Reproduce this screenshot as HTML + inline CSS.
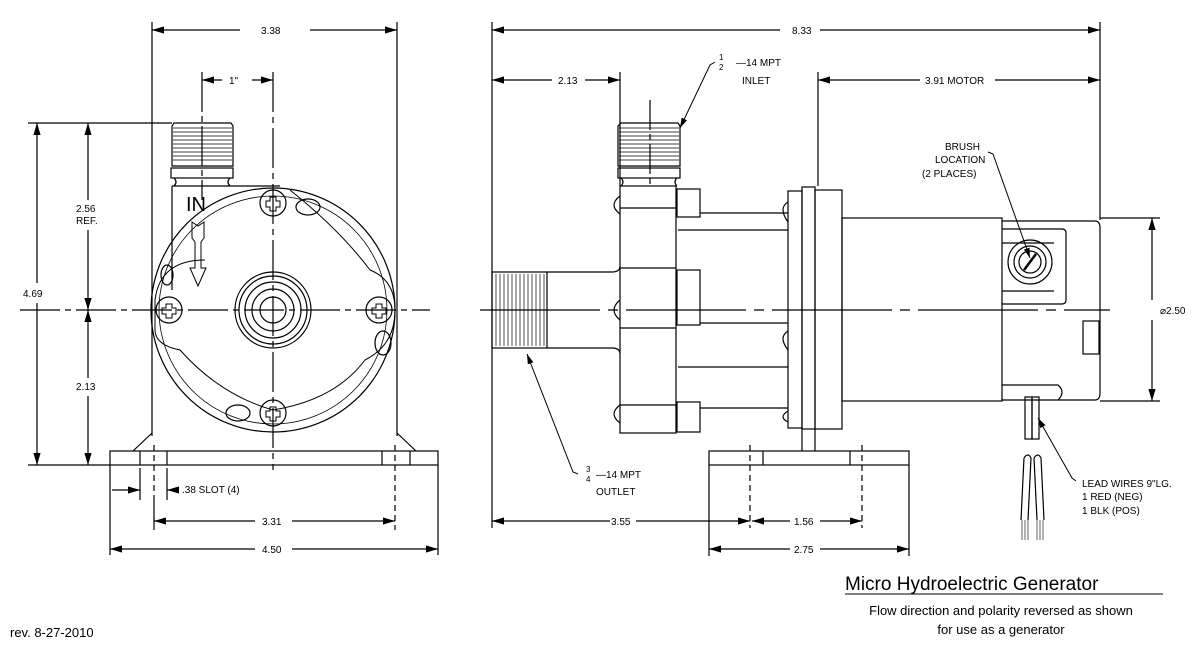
<!DOCTYPE html>
<html><head><meta charset="utf-8"><style>
html,body{margin:0;padding:0;background:#fff;width:1198px;height:645px;overflow:hidden}
svg{display:block}
text{font-family:"Liberation Sans",sans-serif;fill:#000}
.t{font-size:10px}
</style></head><body>
<svg width="1198" height="645" viewBox="0 0 1198 645" xmlns="http://www.w3.org/2000/svg">
<defs>
<marker id="a" viewBox="0 0 10 6" refX="10" refY="3" markerWidth="10" markerHeight="6" orient="auto-start-reverse"><path d="M0,0 L10,3 L0,6 z" fill="#000"/></marker>
</defs>
<g fill="none" stroke="#000" stroke-width="1.2">
<line x1="152" y1="22" x2="152" y2="436"/>
<line x1="397" y1="22" x2="397" y2="436"/>
<line x1="202" y1="72" x2="202" y2="200" stroke-dasharray="40,4,6,4"/>
<line x1="273" y1="72" x2="273" y2="470" stroke-dasharray="40,5,6,5"/>
<line x1="20" y1="310" x2="430" y2="310" stroke-dasharray="40,5,6,5"/>
<line x1="28" y1="123" x2="172" y2="123"/>
<line x1="28" y1="465" x2="110" y2="465"/>
<line x1="152" y1="433" x2="133" y2="451"/>
<line x1="397" y1="433" x2="416" y2="451"/>
<rect x="110" y="451" width="328" height="14"/>
<line x1="140" y1="451" x2="140" y2="465"/><line x1="167" y1="451" x2="167" y2="465"/>
<line x1="382" y1="451" x2="382" y2="465"/><line x1="410" y1="451" x2="410" y2="465"/>
<line x1="154" y1="445" x2="154" y2="500" stroke-dasharray="6,4"/>
<line x1="395" y1="445" x2="395" y2="530" stroke-dasharray="6,4"/>
<line x1="110" y1="465" x2="110" y2="555"/><line x1="438" y1="465" x2="438" y2="555"/>
<line x1="140" y1="468" x2="140" y2="500"/><line x1="167" y1="468" x2="167" y2="500"/>
<line x1="154" y1="500" x2="154" y2="530"/>
<path d="M174,123 H231 L233,126 V166 H172 V126 Z"/>
<g stroke-width="0.8"><line x1="173" y1="128" x2="232" y2="128"/><line x1="173" y1="132" x2="232" y2="132"/><line x1="173" y1="136" x2="232" y2="136"/><line x1="173" y1="140" x2="232" y2="140"/><line x1="173" y1="144" x2="232" y2="144"/><line x1="173" y1="148" x2="232" y2="148"/><line x1="173" y1="152" x2="232" y2="152"/><line x1="173" y1="156" x2="232" y2="156"/><line x1="173" y1="160" x2="232" y2="160"/></g>
<rect x="171" y="168" width="62" height="10"/>
<path d="M174,178 Q178,182 174,186 M230,178 Q226,182 230,186"/>
<path d="M172,186 H280 M172,186 V290"/>
<circle cx="273" cy="310" r="122"/>
<circle cx="273" cy="310" r="114" stroke-width="0.8"/>
<path d="M205,260 Q160,260 155,300 V330 Q155,345 180,350 Q220,395 273,410 Q335,400 365,360 Q395,345 395,310 Q395,280 370,270 Q340,230 290,190" stroke-width="1"/>
<circle cx="273" cy="203" r="13"/><circle cx="169" cy="310" r="13"/><circle cx="379" cy="310" r="13"/><circle cx="273" cy="413" r="13"/>
<g stroke-width="1">
<path d="M270,197 h6 v4 h4 v6 h-4 v4 h-6 v-4 h-4 v-6 h4z"/>
<path d="M166,304 h6 v4 h4 v6 h-4 v4 h-6 v-4 h-4 v-6 h4z"/>
<path d="M376,304 h6 v4 h4 v6 h-4 v4 h-6 v-4 h-4 v-6 h4z"/>
<path d="M270,407 h6 v4 h4 v6 h-4 v4 h-6 v-4 h-4 v-6 h4z"/>
</g>
<ellipse cx="308" cy="207" rx="12" ry="8"/><ellipse cx="383" cy="343" rx="8" ry="12"/><ellipse cx="238" cy="413" rx="12" ry="8"/><ellipse cx="167" cy="275" rx="6" ry="10"/>
<circle cx="273" cy="310" r="38"/><circle cx="273" cy="310" r="34"/><circle cx="273" cy="310" r="28"/><circle cx="273" cy="310" r="21"/><circle cx="273" cy="310" r="13"/>
<path d="M192,222 L198,226 L204,222 V238 L201,242 V268 L206,268 L198,286 L190,268 L195,268 V242 L192,238 Z" stroke-width="1"/>
<line x1="152" y1="30" x2="240" y2="30" marker-start="url(#a)"/><line x1="310" y1="30" x2="397" y2="30" marker-end="url(#a)"/>
<line x1="202" y1="80" x2="222" y2="80" marker-start="url(#a)"/><line x1="252" y1="80" x2="273" y2="80" marker-end="url(#a)"/>
<line x1="37" y1="123" x2="37" y2="283" marker-start="url(#a)"/><line x1="37" y1="303" x2="37" y2="465" marker-end="url(#a)"/>
<line x1="88" y1="123" x2="88" y2="200" marker-start="url(#a)"/><line x1="88" y1="230" x2="88" y2="310" marker-end="url(#a)"/>
<line x1="88" y1="310" x2="88" y2="378" marker-start="url(#a)"/><line x1="88" y1="396" x2="88" y2="465" marker-end="url(#a)"/>
<line x1="112" y1="490" x2="140" y2="490" marker-end="url(#a)"/><line x1="178" y1="490" x2="167" y2="490" marker-end="url(#a)"/>
<line x1="154" y1="521" x2="255" y2="521" marker-start="url(#a)"/><line x1="292" y1="521" x2="395" y2="521" marker-end="url(#a)"/>
<line x1="110" y1="549" x2="255" y2="549" marker-start="url(#a)"/><line x1="292" y1="549" x2="438" y2="549" marker-end="url(#a)"/>

<line x1="492" y1="22" x2="492" y2="528"/>
<line x1="1100" y1="22" x2="1100" y2="220"/>
<line x1="620" y1="72" x2="620" y2="186"/>
<line x1="818" y1="72" x2="818" y2="186"/>
<line x1="650" y1="100" x2="650" y2="186" stroke-dasharray="30,4,6,4"/>
<line x1="480" y1="310" x2="1110" y2="310" stroke-dasharray="120,8,10,8"/>
<line x1="1100" y1="218" x2="1160" y2="218"/><line x1="1100" y1="401" x2="1160" y2="401"/>
<rect x="492" y="272" width="55" height="76"/>
<g stroke-width="0.7"><line x1="496" y1="274" x2="496" y2="346"/><line x1="500" y1="274" x2="500" y2="346"/><line x1="504" y1="274" x2="504" y2="346"/><line x1="508" y1="274" x2="508" y2="346"/><line x1="512" y1="274" x2="512" y2="346"/><line x1="516" y1="274" x2="516" y2="346"/><line x1="520" y1="274" x2="520" y2="346"/><line x1="524" y1="274" x2="524" y2="346"/><line x1="528" y1="274" x2="528" y2="346"/><line x1="532" y1="274" x2="532" y2="346"/><line x1="536" y1="274" x2="536" y2="346"/><line x1="540" y1="274" x2="540" y2="346"/><line x1="544" y1="274" x2="544" y2="346"/></g>
<path d="M547,272 H612 Q620,272 620,266 M547,348 H612 Q620,348 620,354"/>
<path d="M621,123 H678 L680,126 V166 H618 V126 Z"/>
<g stroke-width="0.8"><line x1="619" y1="128" x2="679" y2="128"/><line x1="619" y1="132" x2="679" y2="132"/><line x1="619" y1="136" x2="679" y2="136"/><line x1="619" y1="140" x2="679" y2="140"/><line x1="619" y1="144" x2="679" y2="144"/><line x1="619" y1="148" x2="679" y2="148"/><line x1="619" y1="152" x2="679" y2="152"/><line x1="619" y1="156" x2="679" y2="156"/><line x1="619" y1="160" x2="679" y2="160"/></g>
<rect x="618" y="168" width="62" height="10"/>
<path d="M621,178 Q625,182 621,186 M677,178 Q673,182 677,186"/>
<rect x="620" y="186" width="56" height="247"/>
<line x1="620" y1="208" x2="676" y2="208"/><line x1="620" y1="268" x2="676" y2="268"/><line x1="620" y1="328" x2="676" y2="328"/><line x1="620" y1="405" x2="676" y2="405"/>
<path d="M620,196 Q608,205 620,214 M620,300 Q608,310 620,320 M620,405 Q608,414 620,423"/>
<rect x="677" y="189" width="23" height="28"/><rect x="677" y="270" width="23" height="55"/><rect x="677" y="402" width="23" height="30"/>
<line x1="700" y1="213" x2="788" y2="213"/><line x1="678" y1="230" x2="788" y2="230"/><line x1="700" y1="323" x2="788" y2="323"/><line x1="678" y1="367" x2="788" y2="367"/><line x1="700" y1="408" x2="788" y2="408"/>
<path d="M788,202 Q778,208 788,222 M788,331 Q778,337 788,350 M788,411 Q778,417 788,422"/>
<rect x="788" y="191" width="14" height="237"/>
<rect x="802" y="187" width="13" height="242"/>
<rect x="815" y="190" width="27" height="239"/>
<path d="M802,429 V451 M815,429 V451"/>
<rect x="709" y="451" width="200" height="14"/>
<line x1="750" y1="445" x2="750" y2="528" stroke-dasharray="6,4"/><line x1="763" y1="451" x2="763" y2="465"/>
<line x1="862" y1="445" x2="862" y2="528" stroke-dasharray="6,4"/><line x1="850" y1="451" x2="850" y2="465"/>
<line x1="709" y1="465" x2="709" y2="556"/><line x1="909" y1="465" x2="909" y2="556"/>
<rect x="842" y="218" width="160" height="183"/>
<path d="M1002,221 H1095 Q1100,221 1100,228 V393 Q1100,400 1095,400 H1002"/>
<path d="M1002,229 H1062 Q1066,229 1066,233 V300 Q1066,304 1062,304 H1002"/>
<line x1="1002" y1="243" x2="1054" y2="243"/><line x1="1002" y1="291" x2="1054" y2="291"/>
<circle cx="1030" cy="262" r="22"/><circle cx="1030" cy="262" r="16"/><circle cx="1030" cy="262" r="11"/>
<line x1="1024" y1="270" x2="1036" y2="254" stroke-width="2.5"/>
<rect x="1083" y="321" width="16" height="33"/>
<path d="M1002,385 H1058 Q1066,392 1058,400"/>
<rect x="1025" y="397" width="7" height="42"/><rect x="1032" y="397" width="7" height="42"/>
<path d="M1024,458 L1021,520 M1031,458 L1028,520 M1034,458 L1037,520 M1041,458 L1044,520 M1024,458 Q1028,452 1031,458 M1034,458 Q1038,452 1041,458"/>
<g stroke-width="0.6"><path d="M1022,520 v20 M1025,520 v20 M1028,520 v20 M1037,520 v20 M1040,520 v20 M1043,520 v20"/></g>
<line x1="492" y1="30" x2="780" y2="30" marker-start="url(#a)"/><line x1="820" y1="30" x2="1100" y2="30" marker-end="url(#a)"/>
<line x1="492" y1="80" x2="552" y2="80" marker-start="url(#a)"/><line x1="585" y1="80" x2="620" y2="80" marker-end="url(#a)"/>
<line x1="818" y1="80" x2="920" y2="80" marker-start="url(#a)"/><line x1="995" y1="80" x2="1100" y2="80" marker-end="url(#a)"/>
<line x1="1152" y1="218" x2="1152" y2="300" marker-start="url(#a)"/><line x1="1152" y1="320" x2="1152" y2="401" marker-end="url(#a)"/>
<line x1="492" y1="521" x2="610" y2="521" marker-start="url(#a)"/><line x1="636" y1="521" x2="750" y2="521" marker-end="url(#a)"/>
<line x1="752" y1="521" x2="790" y2="521" marker-start="url(#a)"/><line x1="820" y1="521" x2="862" y2="521" marker-end="url(#a)"/>
<line x1="709" y1="549" x2="790" y2="549" marker-start="url(#a)"/><line x1="820" y1="549" x2="909" y2="549" marker-end="url(#a)"/>
<polyline points="715,62 710,65 680,128" marker-end="url(#a)" stroke-width="1"/>
<polyline points="578,474 573,472 527,354" marker-end="url(#a)" stroke-width="1"/>
<polyline points="988,152 993,154 1030,258" marker-end="url(#a)" stroke-width="1"/>
<polyline points="1076,481 1072,478 1038,418" marker-end="url(#a)" stroke-width="1"/>
<line x1="845" y1="594" x2="1163" y2="594" stroke-width="1"/>
</g>
<g class="t">
<text x="261" y="34">3.38</text>
<text x="229" y="84">1"</text>
<text x="23" y="297">4.69</text>
<text x="76" y="212">2.56</text><text x="76" y="224">REF.</text>
<text x="76" y="390">2.13</text>
<text x="182" y="493">.38  SLOT (4)</text>
<text x="262" y="525">3.31</text>
<text x="262" y="553">4.50</text>
<text x="792" y="34">8.33</text>
<text x="558" y="84">2.13</text>
<text x="925" y="84">3.91  MOTOR</text>
<text x="736" y="66">—14  MPT</text><text x="719" y="60" font-size="8">1</text><text x="719" y="70" font-size="8">2</text>
<text x="742" y="84">INLET</text>
<text x="945" y="150">BRUSH</text><text x="935" y="163">LOCATION</text><text x="922" y="177">(2  PLACES)</text>
<text x="1160" y="314">⌀2.50</text>
<text x="596" y="478">—14  MPT</text><text x="586" y="472" font-size="8">3</text><text x="586" y="482" font-size="8">4</text>
<text x="596" y="495">OUTLET</text>
<text x="611" y="525">3.55</text>
<text x="794" y="525">1.56</text>
<text x="794" y="553">2.75</text>
<text x="1082" y="487">LEAD  WIRES  9"LG.</text>
<text x="1082" y="500">1  RED  (NEG)</text>
<text x="1082" y="514">1  BLK  (POS)</text>
</g>
<text x="186" y="211" font-size="20">IN</text>
<text x="845" y="590" font-size="19">Micro Hydroelectric Generator</text>
<text x="1001" y="615" font-size="13" text-anchor="middle">Flow direction and polarity reversed as shown</text>
<text x="1001" y="634" font-size="13" text-anchor="middle">for use as a generator</text>
<text x="10" y="637" font-size="13">rev. 8-27-2010</text>
</svg>
</body></html>
